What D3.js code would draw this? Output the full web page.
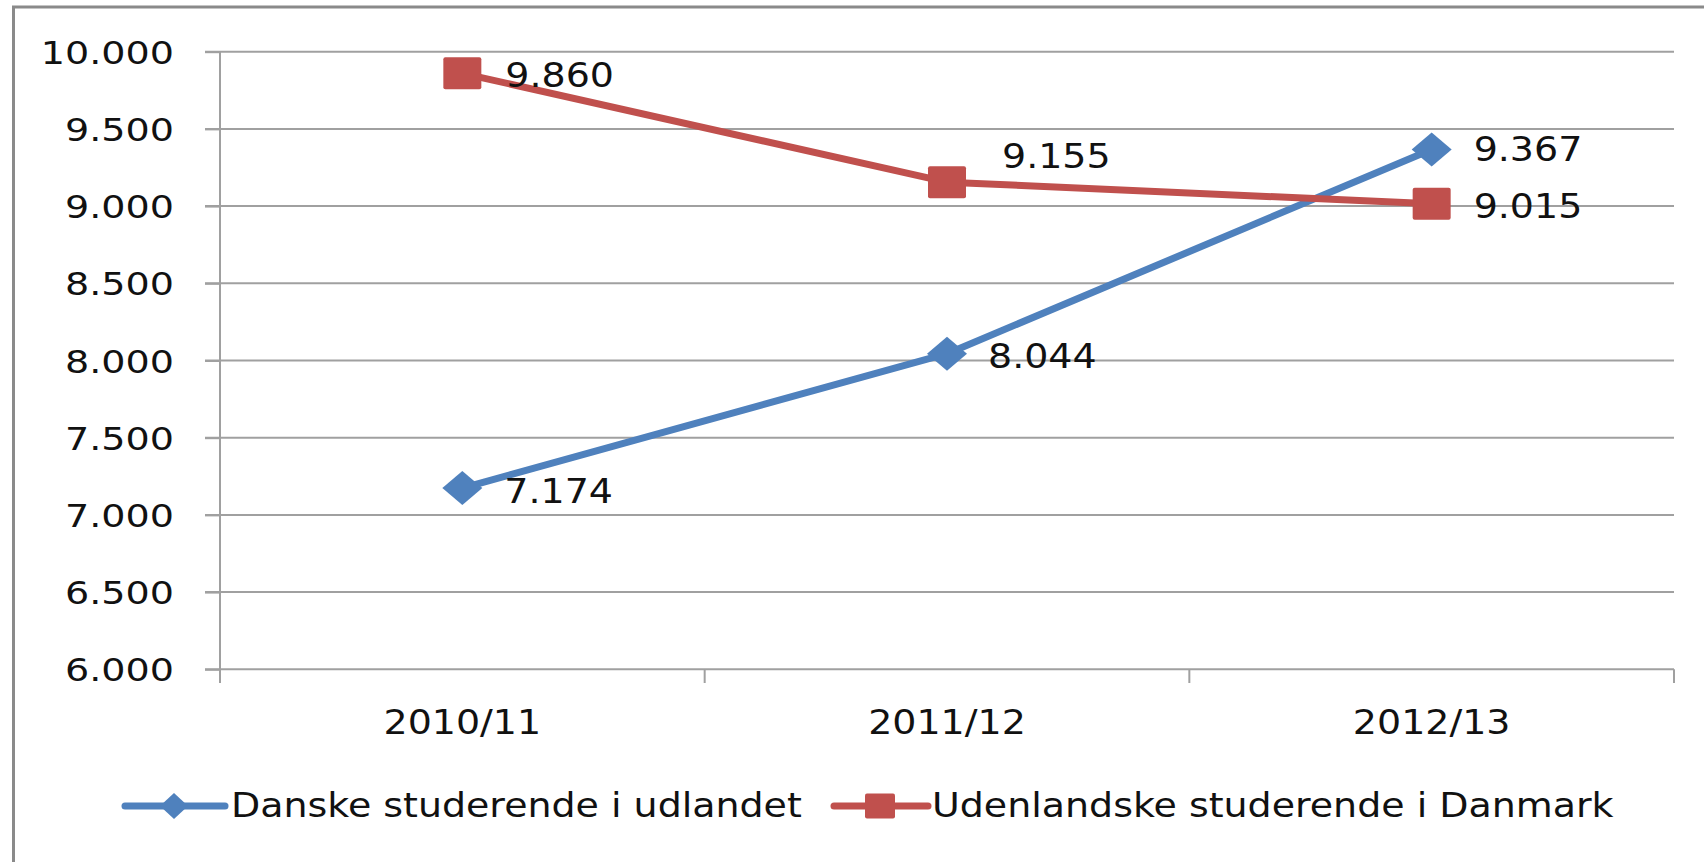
<!DOCTYPE html>
<html lang="da">
<head>
    <meta charset="UTF-8">
    <title>Danske og udenlandske studerende</title>
    <script src="https://d3js.org/d3.v7.min.js"></script>
    <style>
        body { margin: 0; background: #fff; }
        text { font-family: "DejaVu Sans", Verdana, sans-serif; fill: #111; }
    </style>
</head>
<body>
    <div id="chart"></div>
    <script>
        // data
        const categories = ["2010/11", "2011/12", "2012/13"];
        const danske = [7174, 8044, 9367];
        const udenlandske = [9860, 9155, 9015];
        const seriesNames = ["Danske studerende i udlandet", "Udenlandske studerende i Danmark"];
        const yTicks = [6000, 6500, 7000, 7500, 8000, 8500, 9000, 9500, 10000];

        const width = 1704, height = 862;
        const SX = 1.15; // text is drawn a bit wide, like the original

        const fmt = d3.formatLocale({ decimal: ",", thousands: ".", grouping: [3], currency: ["", ""] }).format(",");

        const svg = d3.select("#chart").append("svg")
            .attr("width", width)
            .attr("height", height);

        // outer frame (only top and left are visible)
        svg.append("path")
            .attr("d", `M13.5,${height} V7 H${width}`)
            .attr("fill", "none")
            .attr("stroke", "#8a8a8a")
            .attr("stroke-width", 3);

        const x = d3.scaleBand().domain(categories).range([220, 1674]).padding(0);
        const y = d3.scaleLinear().domain([6000, 10000]).range([669.3, 51.7]);
        const cx = d => x(d) + x.bandwidth() / 2;

        function addText(parent, px, py, str, anchor, size) {
            return parent.append("g")
                .attr("transform", `translate(${px},${py})`)
                .append("text")
                .attr("transform", `scale(${SX},1)`)
                .attr("text-anchor", anchor)
                .style("font-size", size + "px")
                .text(str);
        }

        // gridlines
        svg.append("g").selectAll("line")
            .data(yTicks)
            .join("line")
            .attr("x1", 205).attr("x2", 1674)
            .attr("y1", d => y(d)).attr("y2", d => y(d))
            .attr("stroke", "#a0a0a0")
            .attr("stroke-width", 2);

        // y axis
        const ySX = 1.19;
        const yAxis = svg.append("g")
            .attr("transform", "translate(220,0)")
            .call(d3.axisLeft(y).tickValues(yTicks).tickSize(15).tickFormat(fmt));
        yAxis.select(".domain").remove();
        yAxis.selectAll(".tick line").attr("stroke", "#a0a0a0").attr("stroke-width", 2);
        yAxis.selectAll(".tick text")
            .attr("x", -46 / ySX)
            .attr("dy", "0.36em")
            .attr("transform", `scale(${ySX},1)`)
            .style("font-size", "32px")
            .style("font-family", "DejaVu Sans")
            .attr("fill", "#111");
        svg.append("line")
            .attr("x1", 220).attr("x2", 220)
            .attr("y1", y(10000)).attr("y2", 683)
            .attr("stroke", "#a0a0a0").attr("stroke-width", 2);

        // x axis: ticks on category boundaries
        const bounds = d3.range(categories.length + 1).map(i => x.range()[0] + i * x.step());
        svg.append("g").selectAll("line")
            .data(bounds)
            .join("line")
            .attr("x1", d => d).attr("x2", d => d)
            .attr("y1", y(6000)).attr("y2", 683)
            .attr("stroke", "#a0a0a0").attr("stroke-width", 2);

        const xAxis = svg.append("g")
            .attr("transform", "translate(0,669.3)")
            .call(d3.axisBottom(x).tickSize(0).tickPadding(0));
        xAxis.select(".domain").remove();
        xAxis.selectAll(".tick text")
            .attr("y", 65).attr("dy", 0)
            .attr("transform", `scale(${SX},1)`)
            .style("font-size", "33px")
            .style("font-family", "DejaVu Sans")
            .attr("fill", "#111");

        const series = [
            { name: seriesNames[0], values: danske, color: "#4f81bd", shape: "diamond",
              labelOff: [[42, 3], [41, 2], [42, 0]] },
            { name: seriesNames[1], values: udenlandske, color: "#c0504d", shape: "square",
              labelOff: [[43, 2], [55, -26], [42, 2]] }
        ];

        function marker(g, shape, color, w, h) {
            if (shape === "diamond") {
                g.append("path")
                    .attr("d", `M0,${-h / 2} L${w / 2},0 L0,${h / 2} L${-w / 2},0Z`)
                    .attr("fill", color);
            } else {
                g.append("rect")
                    .attr("x", -w / 2).attr("y", -h / 2)
                    .attr("width", w).attr("height", h)
                    .attr("rx", 2)
                    .attr("fill", color);
            }
        }

        const line = d3.line()
            .x((d, i) => cx(categories[i]))
            .y(d => y(d));

        series.forEach(s => {
            svg.append("path")
                .datum(s.values)
                .attr("d", line)
                .attr("fill", "none")
                .attr("stroke", s.color)
                .attr("stroke-width", 7)
                .attr("stroke-linejoin", "round");
        });

        series.forEach(s => {
            s.values.forEach((v, i) => {
                const g = svg.append("g").attr("transform", `translate(${cx(categories[i])},${y(v)})`);
                if (s.shape === "diamond") marker(g, s.shape, s.color, 40, 34);
                else marker(g, s.shape, s.color, 38, 32);
            });
        });

        // data labels
        series.forEach(s => {
            s.values.forEach((v, i) => {
                const [dx, dy] = s.labelOff[i];
                addText(svg, cx(categories[i]) + dx, y(v) + dy + 12, fmt(v), "start", 33);
            });
        });

        // legend
        const legendY = 806;
        const legendItems = [
            { s: series[0], x1: 125, x2: 225, mx: 174, tx: 231, mw: 28, mh: 26 },
            { s: series[1], x1: 834, x2: 928, mx: 880, tx: 932, mw: 30, mh: 25 }
        ];
        legendItems.forEach(it => {
            svg.append("line")
                .attr("x1", it.x1).attr("x2", it.x2)
                .attr("y1", legendY).attr("y2", legendY)
                .attr("stroke", it.s.color)
                .attr("stroke-width", 7)
                .attr("stroke-linecap", "round");
            const g = svg.append("g").attr("transform", `translate(${it.mx},${legendY})`);
            marker(g, it.s.shape, it.s.color, it.mw, it.mh);
            addText(svg, it.tx, legendY + 11, it.s.name, "start", 33);
        });
    </script>
</body>
</html>
